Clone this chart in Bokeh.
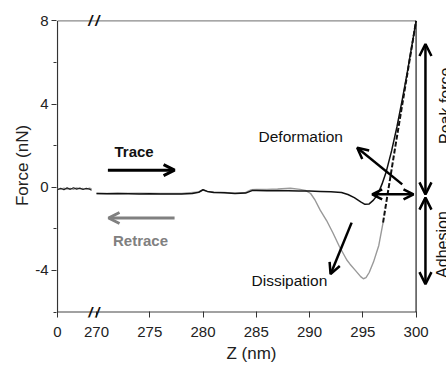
from bokeh.plotting import figure
from bokeh.models import (Range1d, FixedTicker, CustomJSTickFormatter, Arrow, OpenHead,
                          Label)
from bokeh.embed import file_html
from bokeh.resources import INLINE
from math import pi

# ---------------- data ----------------
X0 = 266.34  # display position of z = 0 (left of the axis break)
Z_MIN, Z_MAX = 270, 300
F_MIN, F_MAX = -6, 8

# short segment near z = 0 (left of the break), nm from 0
left_z = [0.0, 0.3, 0.6, 0.9, 1.2, 1.5, 1.8, 2.1, 2.4, 2.7, 3.0, 3.2]
left_trace = [-0.12, -0.05, -0.12, -0.03, -0.10, -0.02, -0.09, -0.04, -0.11, -0.05, -0.09, -0.14]
left_retrace = [-0.08, -0.10, -0.04, -0.09, -0.05, -0.10, -0.03, -0.08, -0.06, -0.10, -0.04, -0.08]

trace_z = [270, 271, 272, 273, 274, 275, 276, 277, 278, 279, 279.6, 280.0, 280.4, 281, 282,
           283, 284, 284.6, 285, 286, 287, 288, 289, 290, 291, 292, 293, 293.6, 294.2, 294.8,
           295.2, 295.6, 296.0, 296.4, 296.8, 297.2, 297.7, 298.2, 298.7, 299.2, 299.6, 300]
trace_f = [-0.30, -0.31, -0.30, -0.31, -0.32, -0.31, -0.32, -0.33, -0.32, -0.30, -0.24, -0.12,
           -0.20, -0.25, -0.27, -0.30, -0.28, -0.16, -0.16, -0.17, -0.16, -0.17, -0.18, -0.18,
           -0.20, -0.22, -0.25, -0.35, -0.50, -0.70, -0.82, -0.80, -0.62, -0.35, 0.15, 0.75,
           1.75, 2.90, 4.20, 5.60, 6.80, 8.00]

retrace_z = [270, 272, 274, 276, 278, 279.6, 280.0, 280.4, 281, 282, 283, 284, 284.5, 285,
             286, 287, 288.2, 289.1, 289.6, 290.1, 290.5, 291.0, 291.6, 292.2, 292.8, 293.5,
             293.8, 294.3, 294.8, 295.05, 295.3, 295.6, 296.0, 296.5, 296.9]
retrace_f = [-0.30, -0.30, -0.28, -0.30, -0.30, -0.22, -0.13, -0.20, -0.22, -0.25, -0.28,
             -0.25, -0.12, -0.10, -0.10, -0.08, -0.05, -0.10, -0.15, -0.30, -0.60, -1.10,
             -1.60, -2.20, -2.85, -3.50, -3.70, -4.00, -4.30, -4.40, -4.35, -4.10, -3.60,
             -2.80, -1.70]

# steep part of the retrace (drawn dashed)
retrace_hi_z = [296.9, 297.4, 298.0, 299.0, 300.0]
retrace_hi_f = [-1.70, -0.10, 1.80, 4.90, 8.00]

x_ticks = [X0, 270, 275, 280, 285, 290, 295, 300]
y_ticks = [-4, 0, 4, 8]
y_minor = [-6, -2, 2, 6]

# ---------------- figure ----------------
PX_PER_NM = 10.653
PX_PER_NN = 20.79
x_start = X0 - 1.0 / PX_PER_NM
x_end = x_start + 390 / PX_PER_NM
y_start = F_MIN - 5.5 / PX_PER_NN
y_end = y_start + 304 / PX_PER_NN

p = figure(width=446, height=366, output_backend="svg", toolbar_location=None,
           x_range=Range1d(x_start, x_end), y_range=Range1d(y_start, y_end),
           min_border_left=56, min_border_right=0, min_border_top=13, min_border_bottom=49)
p.background_fill_color = "white"
p.border_fill_color = "white"
p.grid.visible = False
p.outline_line_color = None

FONT = "Liberation Sans"

for ax in (p.xaxis[0], p.yaxis[0]):
    ax.axis_line_color = None
    ax.major_tick_line_color = "#333333"
    ax.minor_tick_line_color = "#333333"
    ax.major_label_text_font = FONT
    ax.major_label_text_font_size = "15px"
    ax.major_label_text_color = "#222222"
    ax.axis_label_text_font = FONT
    ax.axis_label_text_font_size = "17px"
    ax.axis_label_text_font_style = "normal"
    ax.axis_label_text_color = "#222222"

p.xaxis.ticker = FixedTicker(ticks=x_ticks, minor_ticks=[])
p.xaxis.formatter = CustomJSTickFormatter(code="return tick < 268 ? '0' : tick.toFixed(0);")
p.xaxis.major_tick_in = 6
p.xaxis.major_tick_out = 0
p.xaxis.major_label_standoff = 9
p.xaxis.axis_label = "Z (nm)"
p.xaxis.axis_label_standoff = 4

p.yaxis.ticker = FixedTicker(ticks=y_ticks, minor_ticks=y_minor)
p.yaxis.formatter = CustomJSTickFormatter(code="return tick.toFixed(0);")
p.yaxis.major_tick_in = 0
p.yaxis.major_tick_out = 5
p.yaxis.minor_tick_in = 0
p.yaxis.minor_tick_out = 3
p.yaxis.major_label_standoff = 3
p.yaxis.axis_label = "Force (nN)"
p.yaxis.axis_label_standoff = 0

# ---------------- frame lines (axis lines drawn within the plot box) ----------------
p.segment(x0=[X0], y0=[F_MIN], x1=[Z_MAX], y1=[F_MIN], line_color="#444444", line_width=1.2)
p.segment(x0=[X0], y0=[F_MAX], x1=[Z_MAX], y1=[F_MAX], line_color="#8a8a8a", line_width=1.2)
p.segment(x0=[X0], y0=[F_MIN], x1=[X0], y1=[F_MAX], line_color="#333333", line_width=1.2)
p.segment(x0=[Z_MAX], y0=[F_MIN], x1=[Z_MAX], y1=[F_MAX], line_color="#222222", line_width=1.2)

# ---------------- curves ----------------
lz = [X0 + z for z in left_z]
p.line(lz, left_retrace, line_color="#999999", line_width=1.3)
p.line(lz, left_trace, line_color="#222222", line_width=1.2)

p.line(retrace_z, retrace_f, line_color="#999999", line_width=1.4)
p.line(trace_z, trace_f, line_color="#111111", line_width=1.5)
p.line(retrace_hi_z, retrace_hi_f, line_color="#111111", line_width=2, line_dash="5 2")

# ---------------- axis break marks ----------------
for yb in (F_MAX, F_MIN):
    p.add_layout(Label(x=269.75, y=yb, text="/\u2009/", text_align="center",
                       text_baseline="middle", text_font=FONT, text_font_size="15px",
                       text_font_style="bold italic", text_color="#111111"))

# ---------------- arrows ----------------
def arrow(x0, y0, x1, y1, color="black", start=False, end=True, size=11, width=3):
    kw = {}
    kw["end"] = OpenHead(size=size, line_width=width, line_color=color) if end else None
    kw["start"] = OpenHead(size=size, line_width=width, line_color=color) if start else None
    p.add_layout(Arrow(x_start=x0, y_start=y0, x_end=x1, y_end=y1, line_color=color,
                       line_width=width, **kw))

arrow(271.07, 0.82, 277.33, 0.82)                      # trace
arrow(277.33, -1.48, 271.13, -1.48, color="#808080")   # retrace
arrow(298.70, 0.14, 294.47, 1.90, width=2.5)           # deformation
arrow(295.88, -0.34, 299.76, -0.34, start=True, width=2.5, size=10)
arrow(293.95, -1.70, 291.97, -4.18, width=2.5)         # dissipation
arrow(300.88, 6.89, 300.88, -0.34, start=True, width=2.5, size=12)  # peak force
arrow(300.88, -0.50, 300.88, -4.66, start=True, width=2.5, size=12)  # adhesion

# ---------------- labels ----------------
p.add_layout(Label(x=271.69, y=1.71, text="Trace", text_font=FONT, text_font_size="15px",
                   text_font_style="bold", text_baseline="middle", text_color="#111111"))
p.add_layout(Label(x=271.55, y=-2.58, text="Retrace", text_font=FONT, text_font_size="15px",
                   text_font_style="bold", text_baseline="middle", text_color="#808080"))
p.add_layout(Label(x=285.21, y=2.42, text="Deformation", text_font=FONT,
                   text_font_size="15.5px", text_baseline="middle", text_color="#111111"))
p.add_layout(Label(x=284.55, y=-4.47, text="Dissipation", text_font=FONT,
                   text_font_size="15.5px", text_baseline="middle", text_color="#111111"))
p.add_layout(Label(x=301.92, y=2.08, text="Peak force", angle=pi / 2, text_font=FONT,
                   text_font_size="16px", text_baseline="top", text_align="left",
                   text_color="#111111"))
p.add_layout(Label(x=301.72, y=-4.36, text="Adhesion", angle=pi / 2, text_font=FONT,
                   text_font_size="16px", text_baseline="top", text_align="left",
                   text_color="#111111"))

open("out.html", "w").write(file_html(p, INLINE))
